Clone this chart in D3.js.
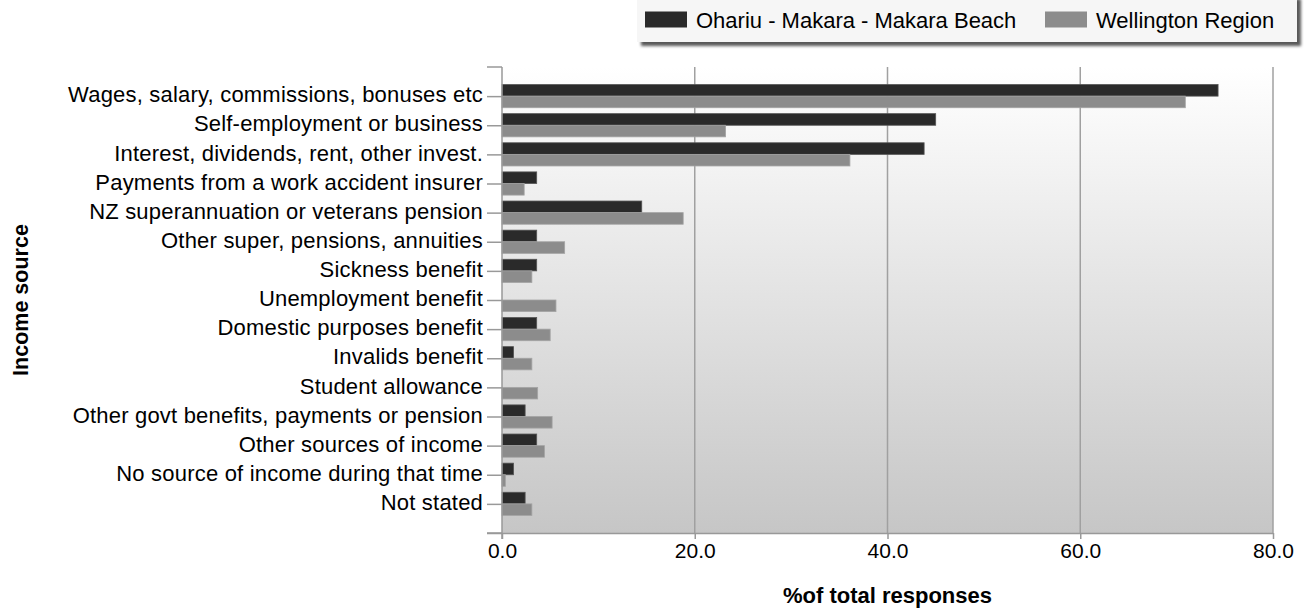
<!DOCTYPE html>
<html>
<head>
<meta charset="utf-8">
<script src="https://cdn.jsdelivr.net/npm/d3@7"></script>
<style>
  body { margin: 0; background: #fff; }
  svg { display: block; font-family: "Liberation Sans", Arial, sans-serif; }
</style>
</head>
<body>
<div id="chart"></div>
<script>
const width = 1308;
const height = 609;
const margin = { top: 67, right: 35, bottom: 76, left: 502 };

const categories = [
  "Wages, salary, commissions, bonuses etc",
  "Self-employment or business",
  "Interest, dividends, rent, other invest.",
  "Payments from a work accident insurer",
  "NZ superannuation or veterans pension",
  "Other super, pensions, annuities",
  "Sickness benefit",
  "Unemployment benefit",
  "Domestic purposes benefit",
  "Invalids benefit",
  "Student allowance",
  "Other govt benefits, payments or pension",
  "Other sources of income",
  "No source of income during that time",
  "Not stated",
];
const localValues = [74.3, 45.0, 43.8, 3.6, 14.5, 3.6, 3.6, 0, 3.6, 1.2, 0, 2.4, 3.6, 1.2, 2.4];
const regionValues = [70.9, 23.2, 36.1, 2.3, 18.8, 6.5, 3.1, 5.6, 5.0, 3.1, 3.7, 5.2, 4.4, 0.35, 3.1];
const seriesNames = ["Ohariu - Makara - Makara Beach", "Wellington Region"];
const xTicks = [0, 20, 40, 60, 80];

const colors = ["#2a2a2a", "#8c8c8c"];

const svg = d3.select("#chart").append("svg")
  .attr("width", width)
  .attr("height", height);

const defs = svg.append("defs");
const grad = defs.append("linearGradient")
  .attr("id", "bg")
  .attr("x1", 0).attr("y1", 0).attr("x2", 0).attr("y2", 1);
grad.append("stop").attr("offset", "0%").attr("stop-color", "#ffffff");
grad.append("stop").attr("offset", "100%").attr("stop-color", "#c6c6c6");

const shadow = defs.append("filter").attr("id", "shadow")
  .attr("x", "-5%").attr("y", "-20%").attr("width", "110%").attr("height", "160%");
shadow.append("feDropShadow")
  .attr("dx", 4).attr("dy", 4).attr("stdDeviation", 1.5)
  .attr("flood-color", "#000").attr("flood-opacity", 0.65);

const x = d3.scaleLinear()
  .domain([0, 80])
  .range([margin.left, width - margin.right]);

const y = d3.scalePoint()
  .domain(categories)
  .range([margin.top, height - margin.bottom])
  .padding(1);

const barH = 11.6;

// plot background
svg.append("rect")
  .attr("x", x(0))
  .attr("y", margin.top)
  .attr("width", x(80) - x(0))
  .attr("height", height - margin.bottom - margin.top)
  .attr("fill", "url(#bg)");

// vertical grid lines
svg.append("g")
  .selectAll("line")
  .data(xTicks.slice(1))
  .join("line")
  .attr("x1", (d) => x(d))
  .attr("x2", (d) => x(d))
  .attr("y1", margin.top)
  .attr("y2", height - margin.bottom)
  .attr("stroke", "#a0a0a0")
  .attr("stroke-width", 1.5);

// bars
const rows = categories.map((c, i) => ({ c, v: [localValues[i], regionValues[i]] }));

rows.forEach((row) => {
  row.v.forEach((v, s) => {
    if (!v) return;
    svg.append("rect")
      .attr("x", x(0))
      .attr("y", y(row.c) - barH + s * barH)
      .attr("width", x(v) - x(0))
      .attr("height", barH)
      .attr("fill", colors[s])
      .attr("stroke", s === 0 ? "#555" : "#a4a4a4")
      .attr("stroke-width", 0.8);
  });
});

// left axis
const yAxis = svg.append("g")
  .attr("transform", `translate(${x(0)},0)`)
  .call(d3.axisLeft(y).tickSize(15).tickPadding(4).tickSizeOuter(0));
yAxis.select(".domain").remove();
yAxis.selectAll(".tick line").attr("stroke", "#999").attr("stroke-width", 1.5);
yAxis.selectAll(".tick text")
  .attr("fill", "#000")
  .attr("font-size", 22)
  .attr("letter-spacing", 0.2)
  .attr("font-family", "'Liberation Sans', Arial, sans-serif")
  .attr("dy", "0.26em");

// extra top and bottom ticks on left edge
svg.append("g")
  .selectAll("line")
  .data([margin.top, height - margin.bottom])
  .join("line")
  .attr("x1", x(0) - 15)
  .attr("x2", x(0))
  .attr("y1", (d) => d)
  .attr("y2", (d) => d)
  .attr("stroke", "#999")
  .attr("stroke-width", 1.5);

svg.append("line")
  .attr("x1", x(0)).attr("x2", x(0))
  .attr("y1", margin.top).attr("y2", height - margin.bottom + 6)
  .attr("stroke", "#999").attr("stroke-width", 1.5);

// bottom axis
const xAxis = svg.append("g")
  .attr("transform", `translate(0,${height - margin.bottom})`)
  .call(d3.axisBottom(x).tickValues(xTicks).tickFormat(d3.format(".1f")).tickSize(6).tickPadding(4).tickSizeOuter(0));
xAxis.select(".domain")
  .attr("d", `M${x(0) - 15},0.5H${x(80)}`)
  .attr("stroke", "#999").attr("stroke-width", 1.5);
xAxis.selectAll(".tick line").attr("stroke", "#999").attr("stroke-width", 1.5);
xAxis.selectAll(".tick text")
  .attr("fill", "#000")
  .attr("font-size", 21)
  .attr("font-family", "'Liberation Sans', Arial, sans-serif");

// axis titles
svg.append("text")
  .attr("x", (x(0) + x(80)) / 2)
  .attr("y", 603)
  .attr("text-anchor", "middle")
  .attr("font-size", 22)
  .attr("font-weight", "bold")
  .text("%of total responses");

svg.append("text")
  .attr("transform", `translate(28,${(margin.top + height - margin.bottom) / 2}) rotate(-90)`)
  .attr("text-anchor", "middle")
  .attr("font-size", 21.5)
  .attr("font-weight", "bold")
  .text("Income source");

// legend
const legend = svg.append("g");
legend.append("rect")
  .attr("x", 637)
  .attr("y", -5)
  .attr("width", 660)
  .attr("height", 47)
  .attr("fill", "#f6f6f6")
  .attr("filter", "url(#shadow)");

const legendX = [645, 1045];
seriesNames.forEach((name, i) => {
  legend.append("rect")
    .attr("x", legendX[i])
    .attr("y", 11.5)
    .attr("width", 42)
    .attr("height", 16)
    .attr("fill", colors[i]);
  legend.append("text")
    .attr("x", legendX[i] + 51)
    .attr("y", 28)
    .attr("font-size", 22)
    .attr("fill", "#000")
    .text(name);
});
</script>
</body>
</html>
